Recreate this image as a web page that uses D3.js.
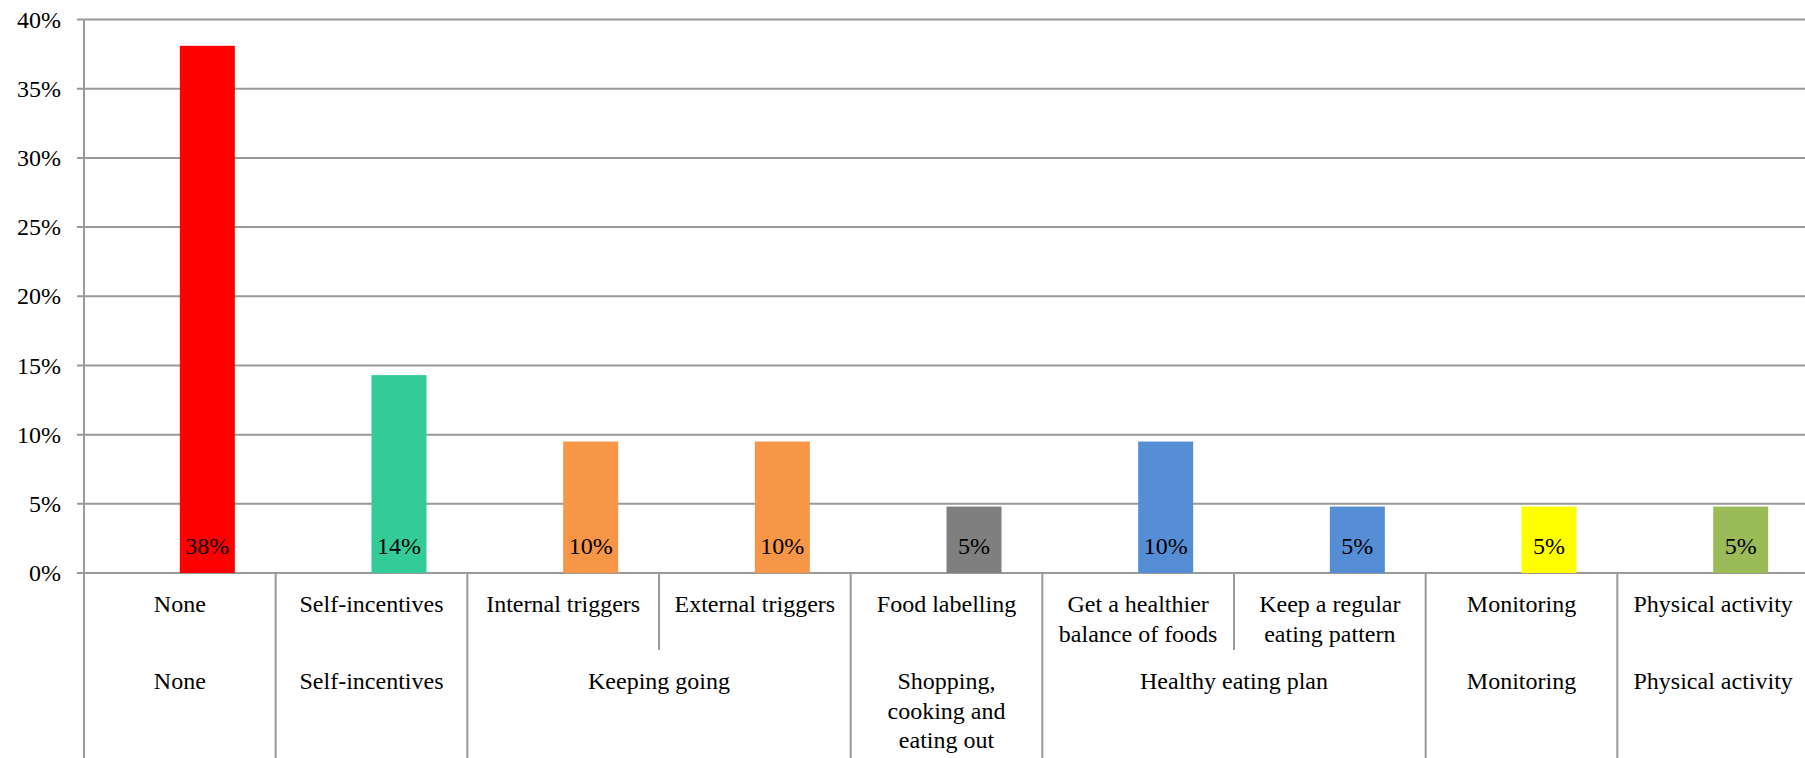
<!DOCTYPE html>
<html>
<head>
<meta charset="utf-8">
<script src="https://cdn.jsdelivr.net/npm/d3@7"></script>
<style>
  body { margin: 0; background: #fff; }
</style>
</head>
<body>
<div id="chart"></div>
<script>
// categories (lower level) and their groups (upper level), "\n" = line break
const categories = ["None", "Self-incentives", "Internal triggers", "External triggers", "Food labelling",
    "Get a healthier\nbalance of foods", "Keep a regular\neating pattern", "Monitoring", "Physical activity"];
const groups = ["None", "Self-incentives", "Keeping going", "Keeping going", "Shopping,\ncooking and\neating out",
    "Healthy eating plan", "Healthy eating plan", "Monitoring", "Physical activity"];
const values = [38.1, 14.3, 9.5, 9.5, 4.8, 9.5, 4.8, 4.8, 4.8];
const valueLabels = ["38%", "14%", "10%", "10%", "5%", "10%", "5%", "5%", "5%"];
const barColors = ["#ff0000", "#33cc99", "#f79646", "#f79646", "#7f7f7f", "#558ed5", "#558ed5", "#ffff00", "#9bbb59"];
const yTicks = [0, 5, 10, 15, 20, 25, 30, 35, 40];

let width = 1805, height = 758;
let margin = {top: 19.5, left: 84, right: -4, bottom: 185};
let gridColor = "#999999";
let fontFam = "'Liberation Serif'";

let svg = d3.select("#chart").append("svg")
    .attr("width", width)
    .attr("height", height);

let x = d3.scaleBand()
    .domain(categories)
    .range([margin.left, width - margin.right])
    .padding(0);

let y = d3.scaleLinear()
    .domain([0, 40])
    .range([height - margin.bottom, margin.top]);

let y0 = y(0);

// gridlines
svg.append("g").selectAll("line")
    .data(yTicks)
    .enter().append("line")
    .attr("x1", margin.left - 7)
    .attr("x2", width - margin.right)
    .attr("y1", d => y(d))
    .attr("y2", d => y(d))
    .attr("stroke", gridColor)
    .attr("stroke-width", 2);

// y axis tick labels
svg.append("g").selectAll("text")
    .data(yTicks)
    .enter().append("text")
    .attr("x", 61)
    .attr("y", d => y(d))
    .attr("dy", "0.34em")
    .attr("text-anchor", "end")
    .style("font-family", fontFam)
    .style("font-size", "24px")
    .text(d => d + "%");

// bars: start at band centre, like a 2-series excel column
let bw = x.bandwidth();
svg.append("g").selectAll("rect")
    .data(categories)
    .enter().append("rect")
    .attr("x", d => x(d) + bw / 2)
    .attr("y", (d, i) => y(values[i]))
    .attr("width", bw * 0.287)
    .attr("height", (d, i) => y0 - y(values[i]))
    .attr("fill", (d, i) => barColors[i]);

// data labels
svg.append("g").selectAll("text")
    .data(categories)
    .enter().append("text")
    .attr("x", d => x(d) + bw / 2 + bw * 0.287 / 2)
    .attr("y", y0 - 19.5)
    .attr("text-anchor", "middle")
    .style("font-family", fontFam)
    .style("font-size", "24px")
    .text((d, i) => valueLabels[i]);

// y axis line, full height
svg.append("line")
    .attr("x1", margin.left).attr("x2", margin.left)
    .attr("y1", margin.top).attr("y2", height)
    .attr("stroke", gridColor).attr("stroke-width", 2);

// category separators
let lineH = 29.5;
for (let i = 1; i <= categories.length; i++) {
    let xe = i < categories.length ? x(categories[i]) : x(categories[i - 1]) + bw;
    let sameGroup = i < categories.length && groups[i] == groups[i - 1];
    svg.append("line")
        .attr("x1", xe).attr("x2", xe)
        .attr("y1", y0)
        .attr("y2", sameGroup ? y0 + 77 : height)
        .attr("stroke", gridColor).attr("stroke-width", 2);
}

// category labels (row 1)
categories.forEach(function(c) {
    let t = svg.append("text")
        .attr("text-anchor", "middle")
        .style("font-family", fontFam)
        .style("font-size", "24px");
    c.split("\n").forEach(function(line, j) {
        t.append("tspan")
            .attr("x", x(c) + bw / 2)
            .attr("y", y0 + 39 + j * lineH)
            .text(line);
    });
});

// group labels (row 2)
let groupNames = Array.from(new Set(groups));
groupNames.forEach(function(g) {
    let members = categories.filter((c, i) => groups[i] == g);
    let x1 = x(members[0]);
    let x2 = x(members[members.length - 1]) + bw;
    let t = svg.append("text")
        .attr("text-anchor", "middle")
        .style("font-family", fontFam)
        .style("font-size", "24px");
    g.split("\n").forEach(function(line, j) {
        t.append("tspan")
            .attr("x", (x1 + x2) / 2)
            .attr("y", y0 + 116 + j * lineH)
            .text(line);
    });
});
</script>
</body>
</html>
